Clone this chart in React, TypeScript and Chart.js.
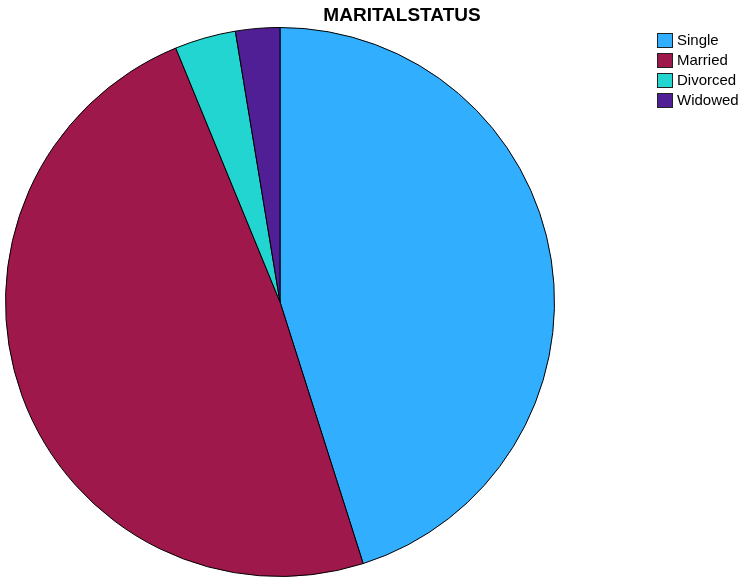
import React, { useEffect, useRef } from "react";
import { Chart, registerables } from "chart.js";

Chart.register(...registerables);

const titleText = "MARITALSTATUS";
const categories = ["Single", "Married", "Divorced", "Widowed"];
const values = [45.1, 48.7, 3.6, 2.6];
const colors = ["#32aefe", "#9f184b", "#22d5d0", "#511f95"];

const overlayPlugin = {
  id: "overlay",
  afterDraw(chart: any) {
    const ctx = chart.ctx;
    ctx.save();
    ctx.fillStyle = "#000";
    ctx.font = "bold 19px 'Liberation Sans', Arial, sans-serif";
    ctx.textAlign = "center";
    ctx.textBaseline = "alphabetic";
    ctx.fillText(titleText, 402, 21);
    const labels = chart.data.labels as string[];
    const bg = chart.data.datasets[0].backgroundColor as string[];
    ctx.font = "15px 'Liberation Sans', Arial, sans-serif";
    ctx.textAlign = "left";
    ctx.textBaseline = "middle";
    labels.forEach((lab, i) => {
      const cy = 40 + i * 20;
      ctx.fillStyle = bg[i];
      ctx.fillRect(657.5, cy - 7, 15, 14);
      ctx.strokeStyle = "#222";
      ctx.lineWidth = 1;
      ctx.strokeRect(657.5, cy - 6.5, 15, 14);
      ctx.fillStyle = "#000";
      ctx.fillText(lab, 677, cy + 1);
    });
    ctx.restore();
  },
};

export default function App() {
  const ref = useRef<HTMLCanvasElement>(null);
  useEffect(() => {
    document.body.style.margin = "0";
    const chart = new Chart(ref.current!, {
      type: "pie",
      data: {
        labels: categories,
        datasets: [
          {
            data: values,
            backgroundColor: colors,
            borderColor: "#000",
            borderWidth: 1,
          },
        ],
      },
      options: {
        animation: false,
        responsive: false,
        layout: { padding: { left: 5, right: 186, top: 27, bottom: 2 } },
        plugins: {
          legend: { display: false },
          title: { display: false },
          tooltip: { enabled: false },
        },
      },
      plugins: [overlayPlugin],
    });
    return () => chart.destroy();
  }, []);
  return (
    <div style={{ width: 741, height: 579, background: "#fff" }}>
      <canvas ref={ref} width={741} height={579} />
    </div>
  );
}
